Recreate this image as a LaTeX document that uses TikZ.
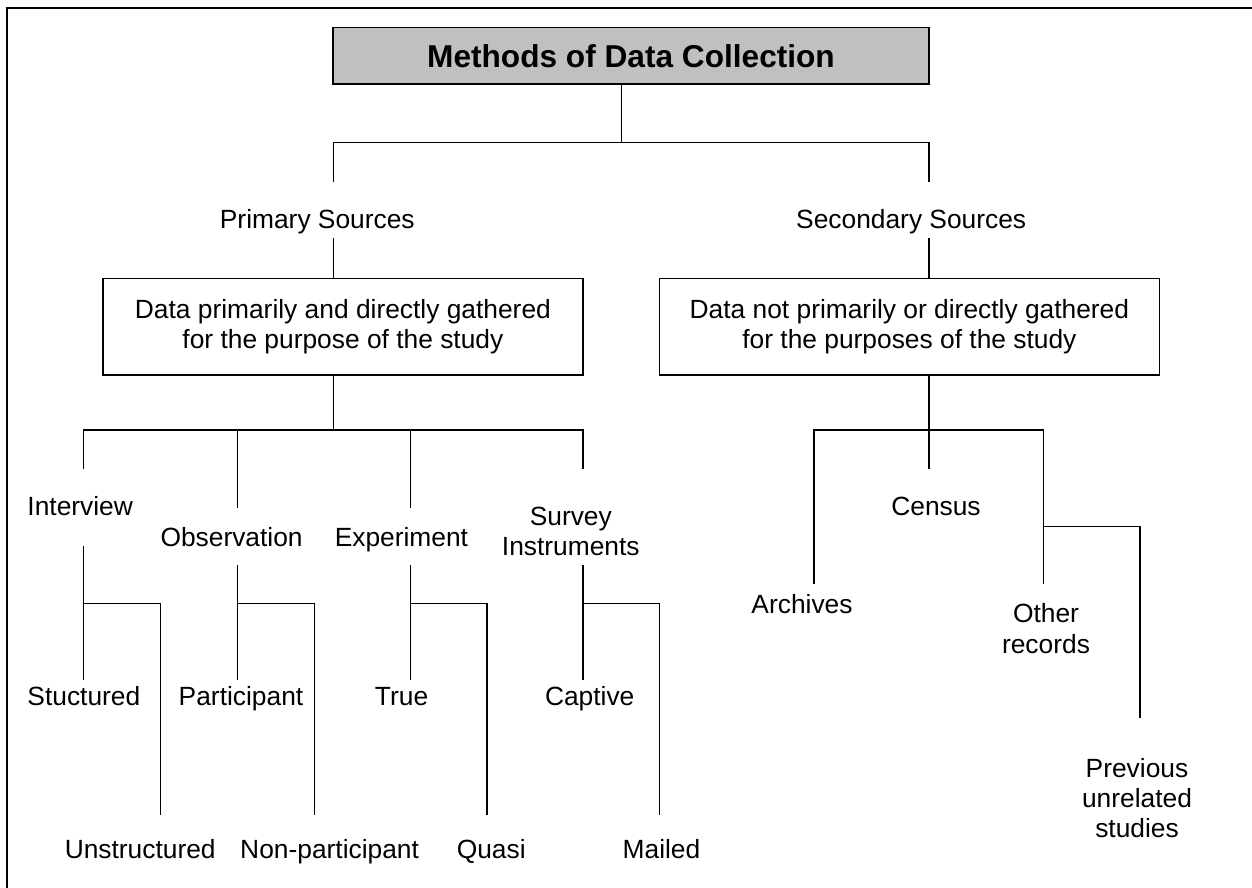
\documentclass[tikz,border=0pt]{standalone}
\usepackage{fontspec}
\setmainfont{Liberation Sans}
\usepackage{tikz}
\usepackage{xcolor}

\definecolor{titlegray}{HTML}{C0C0C0}

\tikzset{
  lbl/.style={font=\fontsize{15}{17.25}\selectfont, inner sep=0pt, anchor=base, align=center},
  databox/.style={draw, line width=0.9pt, font=\fontsize{15}{17.25}\selectfont, align=center,
    minimum height=1.932cm, inner sep=0pt},
  titlebox/.style={draw, line width=0.9pt, fill=titlegray, font=\bfseries\fontsize{18}{21}\selectfont,
    minimum width=11.92cm, minimum height=1.14cm, inner sep=0pt}
}

\begin{document}
\begin{tikzpicture}[x=0.02cm, y=-0.02cm, line width=0.8pt]
\useasboundingbox (0,0) rectangle (1252,888);
\clip (0,0) rectangle (1252,888);
\draw[line width=1pt] (7,8) rectangle (1300,950);

\node[titlebox] (title) at (631,55.8) {Methods of Data Collection};

\node[lbl] (prim) at (317.3,228.3) {Primary Sources};
\node[lbl] (sec) at (911.2,228.3) {Secondary Sources};

\node[databox, minimum width=9.6cm] (pbox) at (342.9,327)
  {Data primarily and directly gathered\\for the purpose of the study};
\node[databox, minimum width=10cm] (sbox) at (909.4,327)
  {Data not primarily or directly gathered\\for the purposes of the study};

% primary methods
\node[lbl] (interview) at (80.2,516) {Interview};
\node[lbl] (obs) at (231.6,546.7) {Observation};
\node[lbl] (exper) at (401.4,546.7) {Experiment};
\node[lbl] (survey) at (570.8,556) {Survey\\Instruments};

\node[lbl] (stuct) at (83.9,705) {Stuctured};
\node[lbl] (part) at (241,705) {Participant};
\node[lbl] (true) at (401.6,705) {True};
\node[lbl] (capt) at (589.7,705) {Captive};

\node[lbl] (unstr) at (140.2,858.3) {Unstructured};
\node[lbl] (nonpart) at (329.6,858.3) {Non-participant};
\node[lbl] (quasi) at (491.2,858.3) {Quasi};
\node[lbl] (mailed) at (661.5,858.3) {Mailed};

% secondary sources
\node[lbl] (census) at (936,516) {Census};
\node[lbl] (arch) at (802,613.3) {Archives};
\node[lbl] (other) at (1046,653.3) {Other\\records};
\node[lbl] (prev) at (1137,837.7) {Previous\\unrelated\\studies};

% top split
\coordinate (top) at (621.6,142.5);
\coordinate (pa) at (333.5,181.7);
\coordinate (sa) at (929,181.7);
\coordinate (pb) at (333.5,238.3);
\coordinate (sb) at (929,238.3);
\coordinate (pj) at (333.5,430);
\coordinate (sj) at (929,430);

\draw (title.south -| top) -- (top);
\draw (pa) |- (top) -| (sa);
\draw (pb) -- (pbox.north -| pb);
\draw (sb) -- (sbox.north -| sb);
\draw (pbox.south -| pj) -- (pj);
\draw (sbox.south -| sj) -- (sj);

% branches under the primary box
\coordinate (iv) at (83.7,469.3);
\coordinate (ob) at (237.6,508.3);
\coordinate (ex) at (410.2,508.3);
\coordinate (sv) at (582.9,469.3);
\draw (iv) |- (pj) -| (sv);
\draw (ob |- pj) -- (ob);
\draw (ex |- pj) -- (ex);

\foreach \n/\x/\t/\r in {iv/83.7/546/160.4, ob/237.6/565/314.3,
                         ex/410.2/565/486.9, sv/582.9/565/659.5} {
  \coordinate (\n-top) at (\x,\t);
  \coordinate (\n-a) at (\x,680);
  \coordinate (\n-j) at (\x,603.3);
  \coordinate (\n-b) at (\r,815);
  \draw (\n-top) -- (\n-a);
  \draw (\n-j) -| (\n-b);
}

% branches under the secondary box
\coordinate (ar) at (813.8,584);
\coordinate (ce) at (929,469.3);
\coordinate (ot) at (1043.2,584);
\coordinate (ot-j) at (1043.2,526.7);
\coordinate (pv) at (1140,718.3);
\draw (ar) |- (sj) -| (ot);
\draw (sj) -- (ce);
\draw (ot-j) -| (pv);
\end{tikzpicture}
\end{document}
